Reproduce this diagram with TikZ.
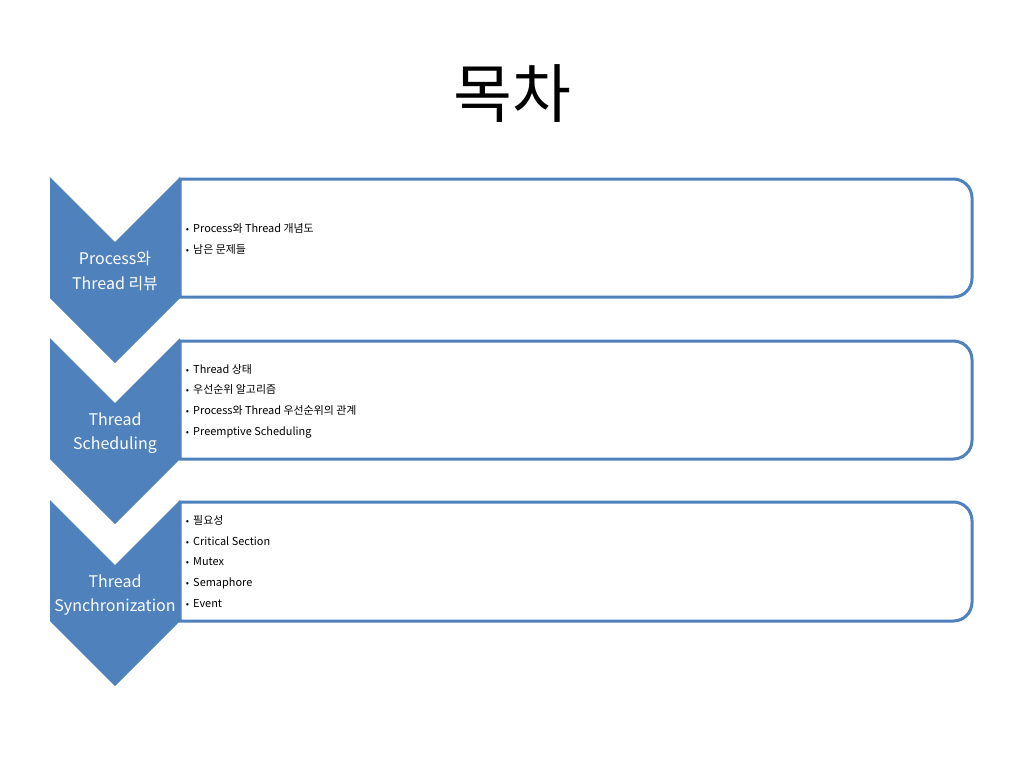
\documentclass[tikz,border=0pt]{standalone}
\usepackage{fontspec}
\setmainfont{Noto Sans CJK KR}
\definecolor{accent}{HTML}{4F81BD}
\begin{document}
\begin{tikzpicture}[x=0.75pt,y=-0.75pt,
  chev/.style={fill=accent,draw=none},
  itembox/.style={draw=accent,line width=2.25pt,fill=white},
  chevtext/.style={text=white,align=center,font=\fontsize{12}{18.5}\selectfont,inner sep=0pt},
  items/.style={align=left,font=\fontsize{8.2}{15.5}\selectfont,inner sep=0pt,anchor=base west},
  titletext/.style={font=\fontsize{48}{56}\selectfont,inner sep=0pt}]
\useasboundingbox (0,0) rectangle (1024,768);
\fill[white] (0,0) rectangle (1024,768);
\node[titletext] (title) at (512,94) {목차};
% boxes
\foreach \t/\b in {179/297, 341/459, 502/621}{
  \draw[itembox] (180,\t) [rounded corners=14pt] -- (972,\t) -- (972,\b) [sharp corners] -- (180,\b) -- cycle;
}
% chevrons
\foreach \T in {177,338,500}{
  \fill[chev] (50,\T) -- (115,\T+65) -- (180,\T) -- (180,\T+121) -- (115,\T+186) -- (50,\T+121) -- cycle;
}
\node[chevtext] (c1) at (115,271) {Process와\\Thread 리뷰};
\node[chevtext] (c2) at (115,433) {Thread\\Scheduling};
\node[chevtext] (c3) at (115,595) {Thread\\Synchronization};
\newcommand{\itm}{\makebox[5.6pt][l]{\scriptsize•}}
% anchor base = baseline of the last line
\node[items] (l1) at (185.5,253) {\itm Process와 Thread 개념도\\\itm 남은 문제들};
\node[items] (l2) at (185.5,435) {\itm Thread 상태\\\itm 우선순위 알고리즘\\\itm Process와 Thread 우선순위의 관계\\\itm Preemptive Scheduling};
\node[items] (l3) at (185.5,607) {\itm 필요성\\\itm Critical Section\\\itm Mutex\\\itm Semaphore\\\itm Event};
\end{tikzpicture}
\end{document}
